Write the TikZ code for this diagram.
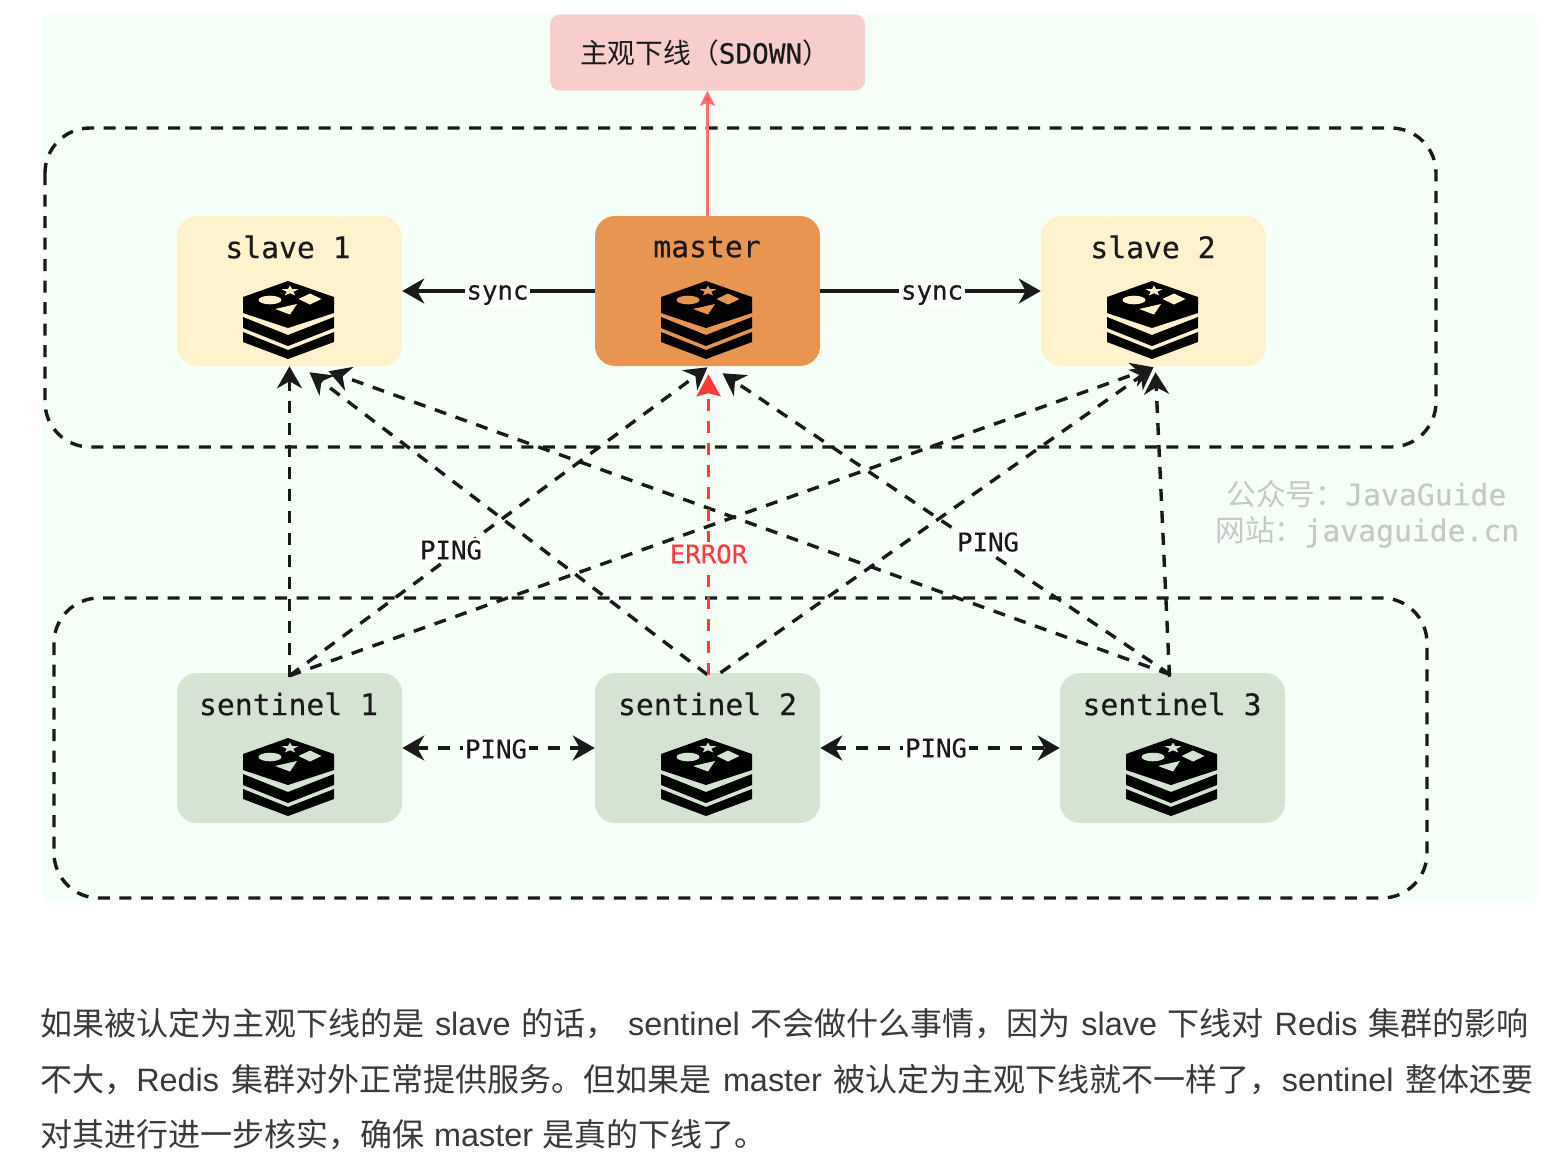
\documentclass[tikz,border=0pt]{standalone}
\usepackage{fontspec}
\usetikzlibrary{arrows.meta,calc}
\setmainfont{Liberation Sans}
\newfontfamily\cjk{Noto Sans CJK SC}
\newfontfamily\mono[FakeBold=0.3]{DejaVu Sans Mono}
\definecolor{bgc}{HTML}{F5FFF8}
\definecolor{slavec}{HTML}{FFF2CC}
\definecolor{masterc}{HTML}{E99552}
\definecolor{sentc}{HTML}{D5E4D2}
\definecolor{titlec}{HTML}{F8CECC}
\definecolor{redc}{HTML}{FF3B3B}
\definecolor{redl}{HTML}{FF6E6E}
\definecolor{ink}{HTML}{1A1A1A}
\definecolor{para}{HTML}{3A3A3A}
\definecolor{wm}{HTML}{C6C8C6}
\def\u{0.75pt}
\newcommand\redisicon[3]{%
\begin{scope}[shift={(#1,#2)}]
\fill[black] (0,-39)--(46,-23)--(46,-7)--(0,8)--(-45,-7)--(-45,-23)--cycle;
\fill[black] (-45,-3)--(0,15)--(46,-3)--(46,8)--(0,26)--(-45,8)--cycle;
\fill[black] (-45,12)--(0,30)--(46,12)--(46,22)--(0,39)--(-45,22)--cycle;
\fill[#3] (-18,-20) ellipse [x radius=11.5,y radius=4.3];
\fill[#3] (22,-26.5)--(33.5,-21)--(22,-15.5)--(10.5,-21)--cycle;
\fill[#3] (-13,-11)--(9,-16)--(2,-5.5)--cycle;
\begin{scope}[shift={(2,-29)},scale=1.25]
\fill[#3] (0,-4.5)--(1.6,-1.5)--(6.7,-1.4)--(2.7,.6)--(4.1,3.6)--(0,1.8)--(-4.1,3.6)--(-2.7,.6)--(-6.7,-1.4)--(-1.6,-1.5)--cycle;
\end{scope}
\end{scope}}
\newcommand\lt[1]{{\rmfamily\fontsize{24.3pt}{28pt}\selectfont #1}}
\tikzset{
 boxbase/.style={rounded corners=20*\u,inner sep=0pt,minimum width=225*\u,minimum height=150*\u},
 slavebox/.style={boxbase,fill=slavec},
 masterbox/.style={boxbase,fill=masterc},
 sentbox/.style={boxbase,fill=sentc},
 titlebox/.style={rounded corners=10*\u,inner sep=0pt,minimum width=315*\u,minimum height=76*\u,fill=titlec},
 group/.style={draw=ink,line width=3.4*\u,dash pattern=on 12*\u off 9.5*\u,rounded corners=45*\u},
 boxtext/.style={inner sep=0pt,font=\mono\fontsize{22.3pt}{26pt}\selectfont,text=ink},
 lab/.style={inner sep=1.5pt,fill=white,font=\mono\fontsize{19.3pt}{23pt}\selectfont,text=ink},
 dash1/.style={draw=ink,line width=3.4*\u,dash pattern=on 12*\u off 10*\u},
 flow/.style={dash1,-{Stealth[length=22*\u,width=25*\u,inset=7*\u,fill=ink]}},
 twoway/.style={dash1,{Stealth[length=22*\u,width=25*\u,inset=7*\u,fill=ink]}-{Stealth[length=22*\u,width=25*\u,inset=7*\u,fill=ink]}},
 syncline/.style={draw=ink,line width=3.2*\u,-{Stealth[length=22*\u,width=25*\u,inset=7*\u,fill=ink]}},
 errline/.style={draw=redc,line width=3.4*\u,dash pattern=on 12*\u off 10*\u,-{Stealth[length=22*\u,width=24*\u,inset=3*\u,fill=redc]}},
 upline/.style={draw=redl,line width=2.6*\u,-{Stealth[length=15*\u,width=15*\u,inset=3*\u,fill=redc]}},
 wmtext/.style={inner sep=0pt,text=wm},
 paraline/.style={inner sep=0pt,anchor=west,text=para,font=\cjk\fontsize{24pt}{28pt}\selectfont}
}
\begin{document}
\begin{tikzpicture}[x=0.75pt,y=-0.75pt]
\useasboundingbox (0,0) rectangle (1562,1168);
\fill[white] (0,0) rectangle (1562,1168);
\fill[bgc,rounded corners=8*\u] (42,14) rectangle (1538,901);
% groups
\draw[group] (45,128) rectangle (1436,447);
\draw[group] (54,598) rectangle (1427,898);
% boxes
\node[titlebox] (title) at (707.5,52.5) {};
\node[slavebox] (slaveA) at (289.5,291) {};
\node[masterbox] (master) at (707.5,291) {};
\node[slavebox] (slaveB) at (1153.5,291) {};
\node[sentbox] (sentA) at (289.5,748) {};
\node[sentbox] (sentB) at (707.5,748) {};
\node[sentbox] (sentC) at (1172.5,748) {};
% connectors
\draw[flow] ($(sentA.north)+(0,4)$) -- ($(slaveA.south)+(0,0)$);
\draw[flow] ($(sentA.north)+(0,3)$) -- ($(master.south)+(0,1)$);
\draw[flow] ($(sentA.north)+(0,3)$) -- ($(slaveB.south)+(0,1)$);
\draw[flow] ($(sentB.north)+(0,2)$) -- ($(slaveA.south)+(20,6)$);
\draw[flow] ($(sentB.north)+(13,0)$) -- ($(slaveB.south)+(0,1)$);
\draw[flow] ($(sentC.north)+(-2,2)$) -- ($(slaveA.south)+(39,5)$);
\draw[flow] ($(sentC.north)+(-2,2)$) -- ($(master.south)+(15,7)$);
\draw[flow] ($(sentC.north)+(-3,4)$) -- ($(slaveB.south)+(2,6)$);
\draw[errline] ($(sentB.north)+(1,2)$) -- ($(master.south)+(1,8)$);
\draw[upline] (master.north) -- (title.south);
\draw[syncline] (master.west) -- (slaveA.east);
\draw[syncline] (master.east) -- (slaveB.west);
\draw[twoway] (sentA.east) -- (sentB.west);
\draw[twoway] (sentB.east) -- (sentC.west);
% connector labels
\node[lab] (l1) at (497.5,295) {sync};
\node[lab] (l2) at (932,295) {sync};
\node[lab] (l3) at (496,749) {PING};
\node[lab] (l4) at (936,748) {PING};
\node[lab] (l5) at (451,550) {PING};
\node[lab] (l6) at (988,542) {PING};
\node[lab,text=redc] (l7) at (708.5,554) {ERROR};
% box texts
\node[inner sep=0pt,text=ink,font=\fontsize{20.8pt}{24pt}\selectfont] (tt) at (705,53) {{\cjk 主观下线（}{\mono\fontsize{20.8pt}{24pt}\selectfont SDOWN}{\cjk ）}};
\node[boxtext] (t1) at (288,247) {slave 1};
\node[boxtext] (t2) at (707,247) {master};
\node[boxtext] (t3) at (1153,247) {slave 2};
\node[boxtext] (t4) at (288.5,704) {sentinel 1};
\node[boxtext] (t5) at (707.5,704) {sentinel 2};
\node[boxtext] (t6) at (1172,704) {sentinel 3};
\redisicon{288}{320}{slavec}
\redisicon{706}{320}{masterc}
\redisicon{1152}{320}{slavec}
\redisicon{288}{777}{sentc}
\redisicon{706}{777}{sentc}
\redisicon{1171}{777}{sentc}
% watermark
\node[wmtext,anchor=west,font=\fontsize{22.3pt}{26pt}\selectfont] (w1) at (1226,494) {{\cjk 公众号：}{\mono JavaGuide}};
\node[wmtext,anchor=west,font=\fontsize{22.3pt}{26pt}\selectfont] (w2) at (1215,532) {{\cjk 网站：}{\mono javaguide.cn}};
% paragraph
\node[paraline] (p1) at (40,1024) {\makebox[1116pt][s]{如果被认定为主观下线的是 \lt{slave} 的话， \lt{sentinel} 不会做什么事情，因为 \lt{slave} 下线对 \lt{Redis} 集群的影响}};
\node[paraline] (p2) at (40,1079.5) {\makebox[1120pt][s]{不大，\lt{Redis} 集群对外正常提供服务。但如果是 \lt{master} 被认定为主观下线就不一样了，\lt{sentinel} 整体还要}};
\node[paraline] (p3) at (40,1135) {对其进行进一步核实，确保\hspace{2pt} \lt{master} \hspace{2pt}是真的下线了。};
\end{tikzpicture}
\end{document}
